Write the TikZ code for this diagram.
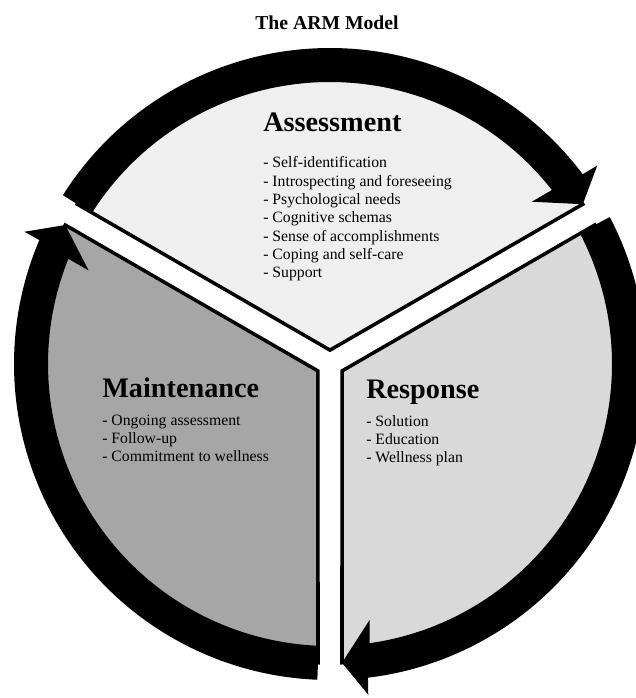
\documentclass[tikz,border=0pt]{standalone}
\usepackage{fontspec}
\setmainfont{Liberation Serif}
\usepackage{tikz}
\usetikzlibrary{positioning}
\definecolor{assessfill}{HTML}{EFEFEF}
\definecolor{responsefill}{HTML}{D9D9D9}
\definecolor{maintfill}{HTML}{A6A6A6}
\tikzset{
    stage title/.style={
        anchor=base west,inner sep=0pt,
        font=\fontsize{20.1}{24}\selectfont\bfseries
    },
    stage item/.style={
        anchor=base west,inner sep=0pt,
        font=\fontsize{11.2}{13}\selectfont
    },
    sector line/.style={draw=black,line width=2.5pt,line join=miter},
}
\begin{document}
\begin{tikzpicture}[x=0.025cm,y=0.025cm]
		\useasboundingbox (-330,-334) rectangle (306,364);
		\node[anchor=base,inner sep=0pt,font=\fontsize{14}{17}\selectfont\bfseries] (title) at (-3,334) {The ARM Model};
		% the three sectors
		\foreach \v/\s/\e/\col in {90/32.3/147.7/assessfill,-30/-87.7/27.7/responsefill,210/152.3/267.7/maintfill}
		\filldraw[sector line,fill=\col] (\v:13.9) -- (\s:299) arc[start angle=\s,end angle=\e,radius=299] -- cycle;
		% ring arrows, clockwise
		\foreach \a/\b in {147.7/32.3,27.7/-87.7,267.7/152.3}
		\fill[black] (\a:316) arc[start angle=\a,end angle=\b+4.6,radius=316]
			-- ({\b+4.3}:333) -- (\b:299) -- ({\b+6.5}:259) -- ({\b+5.8}:282)
			arc[start angle=\b+5.8,end angle=\a,radius=282] -- cycle;

		\node[stage title] (assess) at (-67,232) {Assessment};
		\foreach \txt [count=\k] in {Self-identification,Introspecting and foreseeing,Psychological needs,Cognitive schemas,Sense of accomplishments,Coping and self-care,Support}
		\node[stage item] (assess\k) at (-67,{196-18.3*(\k-1)}) {- \txt};

		\node[stage title] (maint) at (-228,-33) {Maintenance};
		\foreach \txt [count=\k] in {Ongoing assessment,Follow-up,Commitment to wellness}
		\node[stage item] (maint\k) at (-228,{-61-18.3*(\k-1)}) {- \txt};

		\node[stage title] (resp) at (36,-34) {Response};
		\foreach \txt [count=\k] in {Solution,Education,Wellness plan}
		\node[stage item] (resp\k) at (36,{-62-18.3*(\k-1)}) {- \txt};
	\end{tikzpicture}
\end{document}
